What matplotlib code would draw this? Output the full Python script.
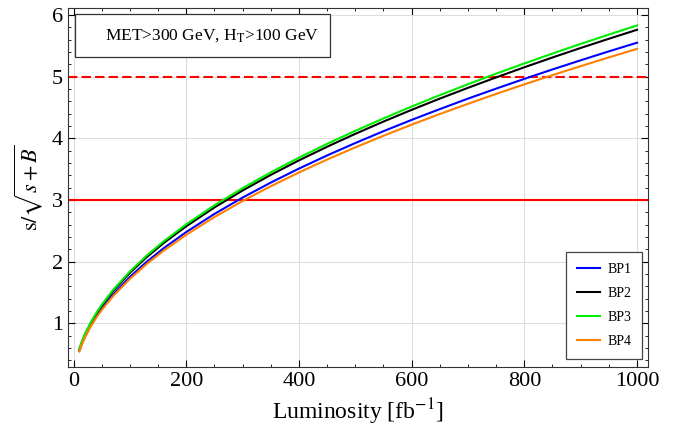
import matplotlib
matplotlib.use("Agg")
import matplotlib.pyplot as plt
from matplotlib.ticker import MultipleLocator
from matplotlib.patches import Rectangle

plt.rcParams['font.family'] = ['Liberation Serif', 'DejaVu Serif']
plt.rcParams['mathtext.fontset'] = 'stix'

lumi = [10, 15, 20, 30, 40, 50, 70, 100, 130, 160, 200, 250, 300, 350, 400,
        450, 500, 550, 600, 650, 700, 750, 800, 850, 900, 950, 1000]
bp1 = [0.555, 0.680, 0.785, 0.961, 1.110, 1.241, 1.468, 1.755, 2.001, 2.220, 2.482,
       2.775, 3.040, 3.283, 3.510, 3.723, 3.924, 4.116, 4.299, 4.474, 4.644, 4.806,
       4.964, 5.117, 5.265, 5.410, 5.55]
bp2 = [0.576, 0.706, 0.815, 0.998, 1.152, 1.288, 1.524, 1.821, 2.077, 2.304, 2.576,
       2.880, 3.155, 3.408, 3.643, 3.864, 4.073, 4.272, 4.462, 4.644, 4.819, 4.988,
       5.152, 5.311, 5.465, 5.614, 5.76]
bp3 = [0.583, 0.714, 0.824, 1.010, 1.166, 1.304, 1.543, 1.843, 2.102, 2.332, 2.607,
       2.915, 3.193, 3.449, 3.687, 3.911, 4.122, 4.323, 4.516, 4.700, 4.878, 5.049,
       5.214, 5.375, 5.531, 5.682, 5.83]
bp4 = [0.545, 0.668, 0.771, 0.944, 1.090, 1.219, 1.442, 1.723, 1.965, 2.180, 2.437,
       2.725, 2.985, 3.224, 3.447, 3.656, 3.854, 4.042, 4.222, 4.394, 4.560, 4.720,
       4.875, 5.025, 5.170, 5.312, 5.45]
series = [("BP1", bp1, "#0000ff"), ("BP2", bp2, "#000000"),
          ("BP3", bp3, "#00ee00"), ("BP4", bp4, "#ff8000")]
sig_3 = 3
sig_5 = 5

fig = plt.figure(figsize=(6.94, 4.30), dpi=100)
ax = fig.add_axes([0.098, 0.1465, 0.8357, 0.8349])

ax.axhline(sig_3, color="#ff0000", lw=1.5, zorder=2)
ax.axhline(sig_5, color="#ff0000", lw=1.5, ls=(0, (4.5, 2)), zorder=2)
for name, vals, col in series:
    ax.plot(lumi, vals, color=col, lw=1.5, label=name, zorder=3)

ax.set_xlim(-10, 1019.5)
ax.set_ylim(0.293, 6.113)
ax.xaxis.set_major_locator(MultipleLocator(200))
ax.xaxis.set_minor_locator(MultipleLocator(50))
ax.yaxis.set_major_locator(MultipleLocator(1))
ax.yaxis.set_minor_locator(MultipleLocator(0.2))
ax.tick_params(which='both', direction='in', top=True, right=True, labelsize=16)
ax.tick_params(which='major', length=5)
ax.tick_params(which='minor', length=2.5)
ax.grid(True, which='major', color='#dddddd', lw=0.8, zorder=0)
ax.set_yticks([1, 2, 3, 4, 5, 6])
for s in ax.spines.values():
    s.set_color('#333333')

ax.set_xlabel(r'Luminosity [fb$^{-1}$]', fontsize=17, labelpad=4)
ax.set_ylabel(r'$\mathrm{s}/\sqrt{s+B}$', fontsize=16, labelpad=5)

ax.add_patch(Rectangle((0.012, 0.8635), 0.440, 0.1195, transform=ax.transAxes,
                       fc='white', ec='#333333', lw=0.9, zorder=5))
ax.text(0.248, 0.923, r'MET>300 GeV, H$_\mathrm{T}$>100 GeV', transform=ax.transAxes,
        fontsize=12.5, ha='center', va='center', zorder=6)

leg = ax.legend(loc='lower right', fontsize=10, frameon=True, fancybox=False,
                edgecolor='#444444', handlelength=1.65, handletextpad=0.5,
                labelspacing=0.8, borderpad=0.8, framealpha=1,
                bbox_to_anchor=(0.990, 0.022), borderaxespad=0)
leg.get_frame().set_linewidth(0.9)

fig.savefig("out.png", dpi=100)
